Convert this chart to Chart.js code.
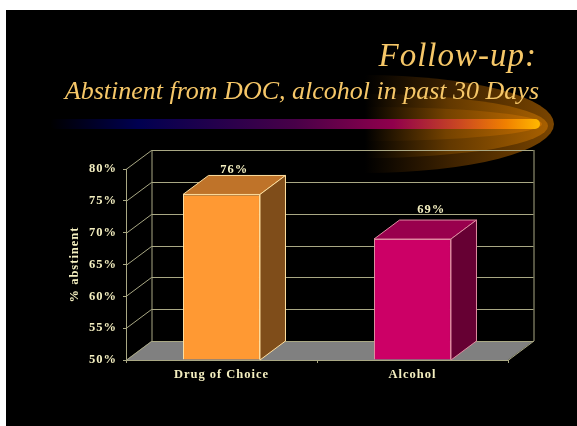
<!DOCTYPE html>
<html>
<head>
<meta charset="utf-8">
<title>Follow-up</title>
<script src="https://cdn.jsdelivr.net/npm/chart.js@4/dist/chart.umd.min.js"></script>
<style>
  html, body { margin: 0; background: #fff; }
  #slide { position: absolute; left: 6px; top: 10px; width: 571px; height: 416px; background: #000; overflow: hidden; }
</style>
</head>
<body>
<div id="slide"><canvas id="chart" width="571" height="416"></canvas></div>
<script>
const heading = "Follow-up:";
const subheading = "Abstinent from DOC, alcohol in past 30 Days";
const categories = ["Drug of Choice", "Alcohol"];
const abstinent = [76, 69];
const axisTitle = "% abstinent";

const ink = "#f4efc0";
const frame = "#a9a884";
const labelFont = "'Liberation Serif'";
const faces = [
    { front: "#ff9933", top: "#bf7329", side: "#7f4d1a", edge: "#ffdf9f" },
    { front: "#cc0066", top: "#99004d", side: "#660033", edge: "#e08aa0" }
];
const depthX = 25.5, depthY = 19;
// 76% and 69% don't sit at the same height over their bars
const labelNudge = [[0, 1], [6, -4]];

function halfEllipse(ctx, cx, cy, rx, ry, midColor, endColor) {
    const g = ctx.createLinearGradient(cx, 0, cx + rx, 0);
    g.addColorStop(0, "#000");
    g.addColorStop(0.46, midColor);
    g.addColorStop(1, endColor);
    ctx.fillStyle = g;
    ctx.beginPath();
    ctx.ellipse(cx, cy, rx, ry, 0, -Math.PI / 2, Math.PI / 2);
    ctx.closePath();
    ctx.fill();
}

function drawBanner(ctx) {
    halfEllipse(ctx, 359, 114, 189, 49, "#3e2200", "#7a4500");
    halfEllipse(ctx, 359, 116, 183, 32, "#623800", "#a86000");
    halfEllipse(ctx, 359, 114, 177, 17, "#744200", "#c46e00");

    const g = ctx.createLinearGradient(44, 0, 534, 0);
    g.addColorStop(0, "#000");
    g.addColorStop(0.18, "#000050");
    g.addColorStop(0.5, "#480048");
    g.addColorStop(0.7, "#90004c");
    g.addColorStop(0.84, "#cc4a20");
    g.addColorStop(0.93, "#f08000");
    g.addColorStop(1, "#ffb800");
    ctx.fillStyle = g;
    ctx.beginPath();
    ctx.roundRect(44, 109, 490, 10, 5);
    ctx.fill();
}

function poly(ctx, pts, fill, stroke) {
    ctx.beginPath();
    pts.forEach((p, i) => i ? ctx.lineTo(p[0], p[1]) : ctx.moveTo(p[0], p[1]));
    ctx.closePath();
    if (fill) { ctx.fillStyle = fill; ctx.fill(); }
    if (stroke) { ctx.strokeStyle = stroke; ctx.lineWidth = 1; ctx.stroke(); }
}

const slide3d = {
    id: "slide3d",
    beforeDraw(chart) {
        const ctx = chart.ctx;
        ctx.save();
        drawBanner(ctx);
        ctx.fillStyle = "#f6c768";
        ctx.textAlign = "right";
        ctx.textBaseline = "alphabetic";
        ctx.font = "italic 33px 'Liberation Serif'";
        ctx.letterSpacing = "1px";
        ctx.fillText(heading, 531, 56);
        ctx.font = "italic 26px 'Liberation Serif'";
        ctx.letterSpacing = "0px";
        ctx.fillText(subheading, 533, 89);
        ctx.restore();
        ctx.letterSpacing = "1px";
    },
    // floor and the two walls behind the bars
    beforeDatasetsDraw(chart) {
        const ctx = chart.ctx, y = chart.scales.y;
        const { left, right, top, bottom } = chart.chartArea;
        const dx = depthX, dy = depthY;
        ctx.save();
        poly(ctx, [[left, bottom], [left + dx, bottom - dy], [right + dx, bottom - dy], [right, bottom]], "#808080");
        ctx.strokeStyle = frame;
        ctx.lineWidth = 1;
        ctx.beginPath();
        for (const t of y.ticks) {
            const py = Math.round(y.getPixelForValue(t.value)) + 0.5;
            ctx.moveTo(left, py);
            ctx.lineTo(left + dx, py - dy);
            ctx.lineTo(right + dx, py - dy);
        }
        ctx.moveTo(left + dx + 0.5, top - dy);
        ctx.lineTo(left + dx + 0.5, bottom - dy);
        ctx.moveTo(right + dx + 0.5, top - dy);
        ctx.lineTo(right + dx + 0.5, bottom - dy);
        ctx.moveTo(right + dx + 0.5, bottom - dy);
        ctx.lineTo(right, bottom + 0.5);
        ctx.stroke();
        ctx.restore();
    },
    afterDatasetsDraw(chart) {
        const ctx = chart.ctx;
        const dx = depthX, dy = depthY;
        const floor = chart.chartArea.bottom;
        ctx.save();
        chart.getDatasetMeta(0).data.forEach((bar, i) => {
            const l = bar.x - bar.width / 2, r = bar.x + bar.width / 2;
            const f = faces[i];
            poly(ctx, [[l, bar.y], [l + dx, bar.y - dy], [r + dx, bar.y - dy], [r, bar.y]], f.top, f.edge);
            poly(ctx, [[r, bar.y], [r + dx, bar.y - dy], [r + dx, floor - dy], [r, floor]], f.side, f.edge);
            ctx.fillStyle = ink;
            ctx.font = "bold 12.5px " + labelFont;
            ctx.textAlign = "center";
            ctx.textBaseline = "bottom";
            ctx.fillText(abstinent[i] + "%", bar.x + dx / 2 + labelNudge[i][0], bar.y - dy + labelNudge[i][1]);
        });
        ctx.restore();
    }
};

new Chart(document.getElementById("chart"), {
    type: "bar",
    data: {
        labels: categories,
        datasets: [{
            data: abstinent,
            base: 50,
            backgroundColor: faces.map(f => f.front),
            borderColor: faces.map(f => f.edge),
            borderWidth: 1,
            categoryPercentage: 1,
            barPercentage: 0.403
        }]
    },
    options: {
        responsive: false,
        animation: false,
        layout: { padding: { top: 159, right: 69 } },
        plugins: { legend: { display: false }, tooltip: { enabled: false } },
        scales: {
            x: {
                afterFit: s => { s.height = 66; },
                grid: { drawOnChartArea: false, color: frame, tickLength: 3 },
                border: { color: frame },
                ticks: { color: ink, padding: 4, maxRotation: 0, font: { family: labelFont, size: 12.5, weight: "bold" } }
            },
            y: {
                min: 50,
                max: 80,
                afterFit: s => { s.width = 120; },
                title: {
                    display: true,
                    text: axisTitle,
                    color: ink,
                    padding: { top: 61, bottom: 0 },
                    font: { family: labelFont, size: 12.5, weight: "bold" }
                },
                grid: { drawOnChartArea: false, color: frame, tickLength: 3 },
                border: { color: frame },
                ticks: {
                    stepSize: 5,
                    color: ink,
                    padding: 6,
                    callback: v => v + "%",
                    font: { family: labelFont, size: 12.5, weight: "bold" }
                }
            }
        }
    },
    plugins: [slide3d]
});
</script>
</body>
</html>
